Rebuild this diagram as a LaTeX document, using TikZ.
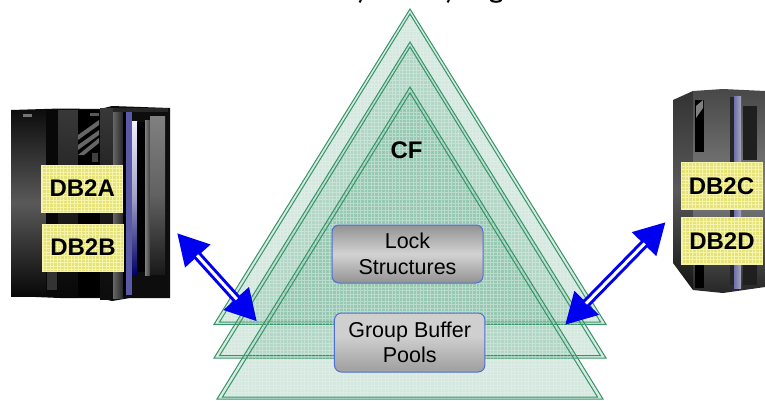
\documentclass[tikz,border=0pt]{standalone}
\usepackage{fontspec}
\setmainfont{Liberation Sans}
\usetikzlibrary{arrows.meta,calc,shadings}
\definecolor{trigreen}{HTML}{379468}
\definecolor{dbyellow}{HTML}{E6E27A}
\definecolor{dbmesh}{HTML}{F6F4A8}
\definecolor{boxedge}{HTML}{4F6FD8}
\definecolor{arrowblue}{HTML}{0000F0}
\tikzset{
  x=1pt,y=-1pt,
  triline/.style={draw=trigreen,line width=1pt,line join=miter},
  trifill/.style={fill=trigreen,fill opacity=0.21},
  trimesh/.style={draw=white,draw opacity=0.22,line width=1pt},
  dbbox/.style={draw=dbmesh,line width=0.6pt,fill=dbyellow,minimum width=81pt,minimum height=47pt,inner sep=0pt,
    font=\fontsize{24}{26}\selectfont\bfseries,
    path picture={\draw[dbmesh,line width=.9pt,step=3.5pt]
      (path picture bounding box.south west) grid (path picture bounding box.north east);}},
  graybox/.style={draw=boxedge,line width=1pt,rounded corners=7pt,minimum width=150pt,minimum height=58pt,inner sep=0pt,
    align=center,font=\fontsize{21.5}{25.5}\selectfont},
  lockshade/.style={top color=gray!85,bottom color=gray!85,middle color=gray!35},
  gbpshade/.style={shade,shading=gbp},
  bluearrow/.style={arrowblue,line width=9pt,{Triangle[length=31pt,width=32pt]}-{Triangle[length=31pt,width=32pt]}},
  arrowcore/.style={white,line width=3pt}
}
\pgfdeclareverticalshading{gbp}{100bp}{
  color(0bp)=(gray!90); color(30bp)=(gray!70); color(55bp)=(gray!38); color(85bp)=(gray!38); color(100bp)=(gray!75)}
\newcommand{\tripair}[6]{%
  \fill[trifill] (410,#1) -- (#3,#2) -- (#4,#2) -- cycle;
  \begin{scope}
    \clip (410,#1) -- (#3,#2) -- (#4,#2) -- cycle;
    \draw[trimesh,step=3.5pt] (200,0) grid (620,400);
  \end{scope}
  \draw[triline] (410,#1) -- (#3,#2) -- (#4,#2) -- cycle;
  \draw[triline] (410,#5) -- ({#3+5.5},#6) -- ({#4-5.5},#6) -- cycle;
}
\begin{document}
\begin{tikzpicture}
\useasboundingbox (0,0) rectangle (765,400);
\fill[white] (0,0) rectangle (765,400);

% cut-off title: only its descenders show
\draw[black,line width=2pt] (361,0) -- (359.5,2.4);
\draw[black,line width=2pt] (449,0) -- (447.5,2.4);
\draw[black,line width=2pt] (490.5,0) .. controls (493,2.4) and (499,2.4) .. (501.5,0);

% ---- left server ----
\fill[black!95] (11,110) -- (60,108.5) -- (100,109) -- (112,106) -- (170,108) -- (170,298) -- (130,298) -- (112,301) -- (100,298) -- (60,298) -- (11,296) -- cycle;
\shade[top color=black!95,bottom color=black!97,middle color=black!65] (11,110) rectangle (46,296);
\fill[black!97] (46,110) rectangle (58,297);
\shade[top color=black!78,bottom color=black!97,middle color=black!88] (58,110) rectangle (78,297);
\fill[black!80] (47,262) rectangle (57,290);
\fill[black] (78,110) rectangle (100,297);
\fill[black!60] (78,135) -- (99,120) -- (99,125) -- (78,140) -- cycle;
\fill[black!60] (78,145) -- (99,130) -- (99,135) -- (78,150) -- cycle;
\fill[black!60] (78,155) -- (99,138) -- (99,143) -- (84,155) -- cycle;
\fill[black!65] (90,113) rectangle (99,116);
\fill[black!55] (23,114) rectangle (32,117);
\fill[black!75] (92,153) rectangle (98,162);
\shade[top color=black!78,bottom color=black!95,middle color=black!90] (100,108) rectangle (113,299);
\shade[left color=black!60,right color=black!85] (113,110) rectangle (123,298);
\fill[black] (123,112) rectangle (126,296);
\fill[blue!30!gray] (126,112) rectangle (132,295);
\shade[top color=blue!6,bottom color=blue!40!black,middle color=blue!25!gray!60] (132,121) rectangle (137,275);
\fill[black] (137,122) rectangle (145,272);
\shade[left color=black!50,right color=black!75] (145,120) rectangle (150,275);
\shade[top color=black!50,bottom color=black!90,middle color=black!62] (150,116) rectangle (165,274);
\fill[black!85] (113,108) rectangle (168,112);

% ---- right server ----
\shade[top color=black!80,bottom color=black!92,middle color=black!65] (673,100) -- (693,91) -- (693,290) -- (673,263) -- cycle;
\shade[top color=black!72,bottom color=black!85,middle color=black!50] (693,91) -- (723,89) -- (765,91) -- (765,287) -- (723,293) -- (693,290) -- cycle;
\fill[black] (695,100) rectangle (704,152);
\fill[black!50] (696,106) -- (703,100) -- (703,108) -- (696,118) -- cycle;
\fill[black] (695,258) rectangle (704,288);
\fill[black!85] (730,97) rectangle (734,285);
\shade[left color=blue!25!gray!90,right color=blue!15!gray!60] (734,96) rectangle (741,288);
\fill[black!88] (743,106) rectangle (757,160);
\fill[black!88] (743,265) rectangle (757,285);

% ---- triangles ----
\tripair{9}{324.3}{214}{606}{14}{322}
\tripair{42}{358}{214}{606}{47}{355.7}
\tripair{87}{399}{217}{603}{93}{397}

% ---- nodes ----
\node[font=\fontsize{24}{26}\selectfont\bfseries] (cf) at (406.5,150.5) {CF};
\node[graybox,lockshade,minimum width=151pt] (lock) at (407.5,254) {Lock\\Structures};
\node[graybox,gbpshade,minimum width=150.5pt,minimum height=59pt] (gbp) at (409.7,342.5) {Group Buffer\\Pools};
\node[dbbox] (dba) at (82.2,188.5) {DB2A};
\node[dbbox] (dbb) at (83,247.5) {DB2B};
\node[dbbox] (dbc) at (721.5,185.8) {DB2C};
\node[dbbox] (dbd) at (722,240.8) {DB2D};

% ---- arrows ----
\coordinate (la) at (177,233);
\coordinate (lb) at (257,321.5);
\coordinate (ra) at (665.7,222);
\coordinate (rb) at (565,325);
\draw[bluearrow] (la) -- (lb);
\draw[arrowcore] ($(la)!30pt!(lb)$) -- ($(lb)!30pt!(la)$);
\draw[bluearrow] (ra) -- (rb);
\draw[arrowcore] ($(ra)!30pt!(rb)$) -- ($(rb)!30pt!(ra)$);
\end{tikzpicture}
\end{document}
